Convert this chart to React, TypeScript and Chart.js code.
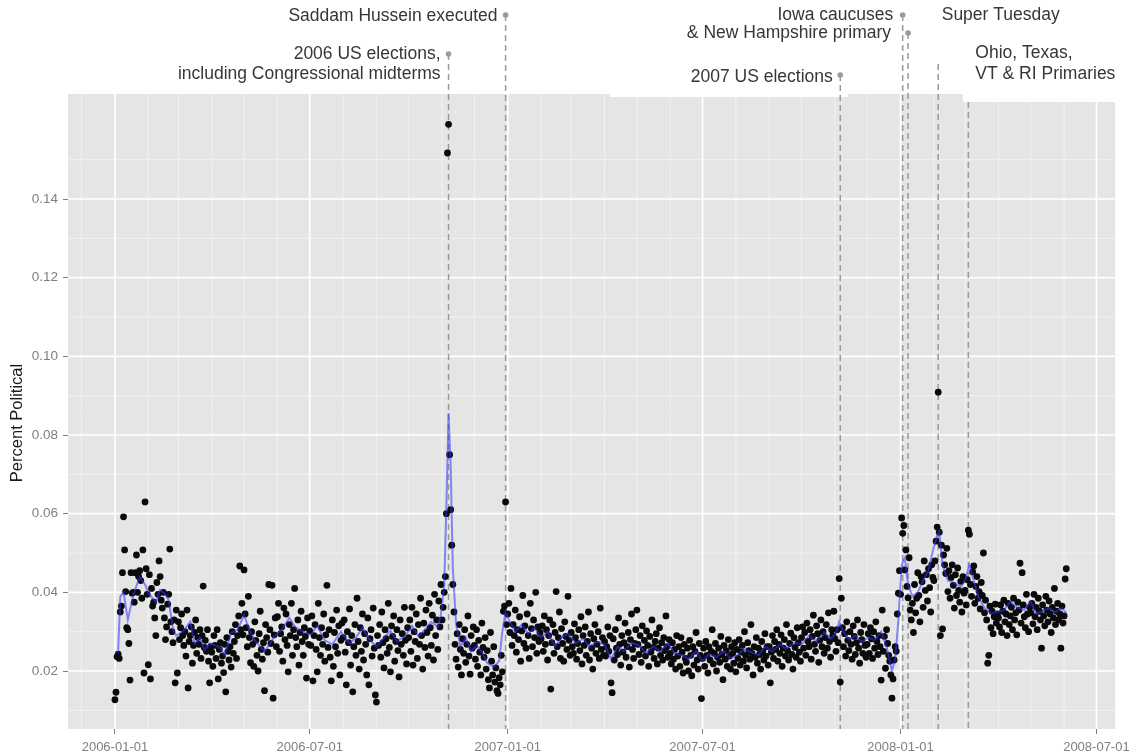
import React, { useEffect, useRef } from "react";
import { Chart, registerables } from "chart.js";

Chart.register(...registerables);

// Daily share of political items, in units of 1e-4, one inner list per month (Jan..)
const political2006: number[][] = [
  [127, 146, 236, 243, 232, 350, 365, 450, 592, 508, 402, 310, 305, 270, 177, 450, 398, 400, 375, 450, 495, 400, 440, 455, 430, 385, 508, 195, 630, 460, 395],
  [216, 445, 180, 410, 365, 375, 335, 290, 425, 395, 480, 440, 380, 360, 400, 335, 280, 312, 370, 395, 510, 325, 300, 272, 330, 170, 355, 195],
  [325, 280, 310, 345, 290, 265, 300, 238, 355, 157, 275, 290, 312, 220, 265, 298, 330, 245, 285, 268, 305, 232, 290, 416, 260, 278, 250, 305, 225, 170, 262],
  [248, 212, 290, 265, 232, 305, 180, 255, 272, 220, 238, 196, 268, 147, 285, 250, 228, 262, 210, 300, 245, 275, 318, 232, 290, 340, 467, 305, 372, 292],
  [457, 345, 310, 262, 390, 285, 221, 300, 268, 212, 325, 278, 240, 200, 295, 352, 255, 230, 272, 150, 318, 285, 248, 420, 305, 270, 418, 131, 292, 335, 262],
  [338, 372, 250, 295, 312, 225, 360, 280, 345, 265, 198, 318, 290, 372, 240, 305, 410, 285, 262, 330, 215, 298, 352, 275, 240, 310, 288, 182, 335, 268],
  [302, 265, 340, 175, 290, 318, 255, 198, 372, 285, 240, 310, 268, 345, 225, 292, 418, 260, 305, 235, 175, 330, 212, 298, 262, 355, 245, 315, 190, 278, 322],
  [285, 330, 248, 165, 300, 272, 358, 215, 290, 147, 262, 318, 240, 385, 275, 205, 310, 250, 345, 228, 295, 268, 190, 335, 165, 282, 305, 238, 360, 258, 139],
  [121, 290, 265, 318, 235, 350, 272, 208, 305, 282, 245, 372, 260, 198, 315, 288, 340, 225, 275, 305, 252, 185, 330, 268, 295, 240, 362, 278, 218, 310],
  [285, 330, 250, 362, 215, 300, 275, 345, 232, 318, 268, 385, 290, 205, 322, 260, 355, 298, 238, 372, 310, 265, 342, 228, 395, 290, 330, 255, 378, 312, 420],
  [330, 362, 400, 440, 600, 1517, 1590, 750, 610, 520, 420, 350, 268, 230, 295, 210, 318, 255, 190, 282, 245, 305, 222, 268, 340, 238, 192, 290, 258, 312],
  [265, 230, 305, 212, 278, 248, 190, 322, 260, 235, 285, 205, 252, 178, 157, 298, 225, 190, 262, 172, 208, 150, 143, 183, 165, 240, 198, 352, 365, 630, 318],
];

const political2007: number[][] = [
  [345, 372, 298, 410, 265, 318, 290, 355, 248, 305, 280, 338, 225, 302, 392, 270, 315, 258, 345, 290, 232, 372, 308, 262, 330, 285, 400, 245, 312, 275, 298],
  [282, 315, 250, 340, 268, 305, 228, 290, 330, 154, 272, 318, 245, 298, 402, 262, 285, 350, 232, 308, 270, 225, 325, 288, 255, 390, 278, 240],
  [298, 262, 245, 320, 285, 230, 270, 305, 252, 338, 218, 290, 265, 312, 240, 275, 350, 228, 295, 258, 205, 282, 318, 245, 268, 300, 232, 360, 255, 285, 240],
  [275, 238, 262, 312, 250, 290, 170, 145, 282, 228, 305, 258, 242, 335, 268, 215, 290, 248, 272, 322, 235, 262, 298, 210, 280, 345, 255, 232, 270, 305],
  [355, 268, 242, 290, 222, 315, 255, 278, 238, 302, 265, 212, 288, 248, 330, 260, 232, 275, 295, 218, 258, 310, 240, 272, 228, 285, 252, 340, 262, 235, 280],
  [245, 218, 272, 230, 255, 205, 290, 238, 262, 212, 285, 248, 195, 268, 232, 222, 258, 200, 278, 240, 188, 262, 215, 250, 298, 228, 205, 270, 240, 130],
  [232, 258, 212, 275, 240, 195, 262, 228, 250, 305, 218, 245, 270, 200, 235, 258, 222, 288, 242, 178, 265, 230, 252, 212, 280, 238, 205, 262, 245, 220, 272],
  [198, 255, 232, 280, 215, 248, 265, 225, 300, 240, 208, 272, 252, 230, 318, 245, 190, 262, 235, 285, 220, 258, 242, 205, 275, 250, 228, 295, 238, 262, 215],
  [262, 170, 248, 290, 232, 275, 255, 305, 225, 268, 245, 292, 212, 258, 280, 238, 318, 252, 228, 270, 296, 242, 205, 285, 260, 235, 310, 272, 248, 225],
  [285, 312, 258, 298, 240, 322, 275, 262, 305, 230, 288, 342, 268, 250, 315, 295, 222, 278, 330, 262, 300, 245, 285, 318, 258, 348, 275, 235, 305, 290, 352],
  [282, 250, 305, 272, 435, 172, 385, 310, 262, 295, 238, 325, 278, 252, 300, 268, 230, 315, 288, 242, 272, 330, 258, 220, 298, 280, 245, 318, 265, 235],
  [268, 295, 245, 310, 282, 232, 300, 258, 325, 275, 242, 290, 262, 177, 355, 250, 288, 207, 305, 270, 240, 225, 190, 131, 180, 228, 262, 250, 345, 398, 455],
];

const political2008: number[][] = [
  [395, 589, 550, 570, 457, 508, 415, 386, 488, 355, 330, 372, 298, 420, 348, 385, 450, 392, 325, 440, 427, 362, 480, 405, 445, 378, 460, 412, 350, 470, 438],
  [430, 480, 530, 566, 909, 553, 290, 520, 307, 495, 470, 448, 512, 402, 455, 385, 438, 470, 418, 360, 445, 392, 462, 405, 375, 428, 350, 440, 398],
  [405, 368, 432, 558, 548, 420, 390, 452, 467, 372, 415, 440, 385, 402, 358, 425, 392, 500, 348, 380, 330, 220, 240, 365, 310, 352, 295, 338, 370, 322, 345],
  [335, 312, 368, 298, 352, 380, 325, 345, 290, 372, 318, 340, 362, 305, 385, 330, 348, 292, 375, 355, 474, 322, 450, 368, 338, 310, 395, 345, 300, 362],
  [348, 372, 320, 395, 338, 362, 305, 385, 352, 330, 258, 368, 340, 315, 390, 355, 325, 378, 345, 298, 362, 335, 410, 318, 352, 372, 330, 345, 258, 365, 322],
  [340, 434, 460],
];

// Smoothed trend (blue line): day offsets from 2006-01-01 and values (1e-4)
const smoothDays = [
  0, 3, 5, 8, 12, 17, 23, 28, 31, 38, 42, 47, 50, 54, 57, 63, 70, 74, 79, 83, 88, 93, 98, 102, 108, 114, 120, 125, 130, 135,
  139, 144, 148, 155, 162, 168, 175, 182, 188, 195, 202, 210, 218, 224, 230, 236, 243, 250, 256, 262, 270, 276, 282, 288, 294, 300, 303, 306, 308, 310,
  312, 314, 317, 321, 326, 331, 336, 341, 346, 352, 357, 360, 363, 366, 372, 378, 384, 390, 396, 402, 409, 415, 421, 428, 435, 441, 448, 455, 461, 467,
  473, 480, 487, 494, 500, 507, 514, 520, 527, 533, 540, 546, 552, 559, 566, 572, 578, 585, 591, 598, 604, 611, 618, 624, 631, 638, 645, 652, 659, 665,
  670, 673, 676, 682, 688, 694, 700, 706, 712, 717, 722, 725, 728, 731, 734, 737, 741, 746, 751, 756, 760, 764, 766, 769, 774, 780, 786, 790, 794, 798,
  802, 808, 814, 820, 826, 832, 838, 845, 851, 856, 862, 868, 874, 880, 884,
];
const smoothValues = [
  246, 250, 389, 400, 330, 393, 439, 420, 398, 375, 406, 395, 380, 305, 290, 300, 325, 270, 285, 254, 270, 266, 258, 240, 296, 305, 342, 304, 278, 262,
  249, 270, 287, 305, 335, 310, 300, 292, 315, 278, 268, 300, 270, 285, 310, 282, 262, 285, 302, 275, 290, 315, 288, 305, 325, 312, 345, 420, 620, 855,
  720, 460, 320, 262, 285, 250, 265, 248, 220, 210, 225, 300, 350, 330, 300, 318, 295, 310, 285, 300, 262, 285, 295, 270, 282, 262, 275, 268, 230, 262,
  250, 272, 265, 245, 262, 250, 270, 245, 240, 230, 250, 225, 242, 236, 250, 232, 240, 255, 248, 240, 262, 250, 268, 256, 272, 268, 290, 275, 298, 282,
  295, 325, 305, 280, 290, 275, 285, 278, 300, 262, 200, 230, 330, 470, 488, 420, 390, 400, 430, 455, 505, 545, 555, 470, 430, 424, 414, 430, 470, 430,
  390, 360, 347, 350, 355, 376, 362, 355, 376, 347, 352, 360, 350, 360, 347,
];

const xTickDates = ["2006-01-01", "2006-07-01", "2007-01-01", "2007-07-01", "2008-01-01", "2008-07-01"];
const yTickValues = [0.02, 0.04, 0.06, 0.08, 0.1, 0.12, 0.14];

const eventDates = ["2006-11-07", "2006-12-30", "2007-11-06", "2008-01-03", "2008-01-08", "2008-02-05", "2008-03-04"];
const eventLabels = [
  ["2006 US elections,", "including Congressional midterms"],
  ["Saddam Hussein executed"],
  ["2007 US elections"],
  ["Iowa caucuses"],
  ["& New Hampshire primary"],
  ["Super Tuesday"],
  ["Ohio, Texas,", "VT & RI Primaries"],
];

// Placement of the annotation labels (pixels)
const eventLayout = [
  { lineTop: 54, dot: true, align: "right", dx: -8, baselines: [59, 78.5] },
  { lineTop: 15, dot: true, align: "right", dx: -8, baselines: [20.5] },
  { lineTop: 75, dot: true, align: "right", dx: -7.5, baselines: [81.5] },
  { lineTop: 15, dot: true, align: "right", dx: -9.5, baselines: [19.5] },
  { lineTop: 33, dot: true, align: "right", dx: -17, baselines: [38] },
  { lineTop: 64, dot: false, align: "left", dx: 3.5, baselines: [19.5] },
  { lineTop: 102, dot: false, align: "left", dx: 7, baselines: [57.5, 78.5] },
];
const labelBoxes = [
  { x: 610, y: 60, w: 238, h: 37 },
  { x: 963, y: 35, w: 173, h: 67 },
];

const FONT = '"Liberation Sans", Arial, Helvetica, sans-serif';
const START = Date.UTC(2006, 0, 1);
const DAY = 86400000;

function dayOfYMD(y: number, m0: number, d: number) {
  return Math.round((Date.UTC(y, m0, d) - START) / DAY);
}
function dayOf(s: string) {
  const [y, m, d] = s.split("-").map(Number);
  return dayOfYMD(y, m - 1, d);
}
function monthlyPoints(year: number, months: number[][]) {
  const out: { x: number; y: number }[] = [];
  months.forEach((vals, mi) =>
    vals.forEach((v, di) => out.push({ x: dayOfYMD(year, mi, di + 1), y: v / 10000 }))
  );
  return out;
}

const xTickDays = xTickDates.map(dayOf);

const decorPlugin = {
  id: "decor",
  beforeDatasetsDraw(chart: any) {
    const { ctx, chartArea: a, scales } = chart;
    const xs = scales.x;
    const ys = scales.y;
    ctx.save();
    ctx.fillStyle = "#E5E5E5";
    ctx.fillRect(a.left, a.top, a.right - a.left, a.bottom - a.top);

    // minor grid
    ctx.strokeStyle = "#F2F2F2";
    ctx.lineWidth = 1;
    for (let k = -2; k <= 32; k++) {
      if (((k % 6) + 6) % 6 === 0) continue;
      const px = xs.getPixelForValue(dayOfYMD(2006, k, 1));
      if (px <= a.left || px >= a.right) continue;
      ctx.beginPath();
      ctx.moveTo(px, a.top);
      ctx.lineTo(px, a.bottom);
      ctx.stroke();
    }
    for (let i = 0; i <= yTickValues.length; i++) {
      const v = 0.01 + i * 0.02;
      const py = ys.getPixelForValue(v);
      if (py <= a.top || py >= a.bottom) continue;
      ctx.beginPath();
      ctx.moveTo(a.left, py);
      ctx.lineTo(a.right, py);
      ctx.stroke();
    }
    // major grid
    ctx.strokeStyle = "#FFFFFF";
    ctx.lineWidth = 1.7;
    xTickDays.forEach((d) => {
      const px = xs.getPixelForValue(d);
      ctx.beginPath();
      ctx.moveTo(px, a.top);
      ctx.lineTo(px, a.bottom);
      ctx.stroke();
    });
    yTickValues.forEach((v) => {
      const py = ys.getPixelForValue(v);
      ctx.beginPath();
      ctx.moveTo(a.left, py);
      ctx.lineTo(a.right, py);
      ctx.stroke();
    });

    // label backgrounds
    ctx.fillStyle = "#FFFFFF";
    labelBoxes.forEach((b) => ctx.fillRect(b.x, b.y, b.w, b.h));

    // event lines, dots and labels
    eventDates.forEach((ds, i) => {
      const lay = eventLayout[i];
      const px = xs.getPixelForValue(dayOf(ds));
      ctx.strokeStyle = "#9A9A9A";
      ctx.lineWidth = 1.5;
      ctx.setLineDash([6, 4]);
      ctx.beginPath();
      ctx.moveTo(px, lay.lineTop);
      ctx.lineTo(px, a.bottom);
      ctx.stroke();
      ctx.setLineDash([]);
      if (lay.dot) {
        ctx.fillStyle = "#9A9A9A";
        ctx.beginPath();
        ctx.arc(px, lay.lineTop, 2.8, 0, Math.PI * 2);
        ctx.fill();
      }
      ctx.fillStyle = "#363636";
      ctx.font = `17.5px ${FONT}`;
      ctx.textAlign = lay.align;
      ctx.textBaseline = "alphabetic";
      eventLabels[i].forEach((t, j) => ctx.fillText(t, px + lay.dx, lay.baselines[j]));
    });

    // y axis title
    ctx.save();
    ctx.translate(17.5, 423);
    ctx.rotate(-Math.PI / 2);
    ctx.fillStyle = "#1A1A1A";
    ctx.font = `16.5px ${FONT}`;
    ctx.textAlign = "center";
    ctx.textBaseline = "middle";
    ctx.fillText("Percent Political", 0, 0);
    ctx.restore();

    ctx.restore();
  },
};

export default function App() {
  const ref = useRef<HTMLCanvasElement | null>(null);

  useEffect(() => {
    if (!ref.current) return;
    const points = [
      ...monthlyPoints(2006, political2006),
      ...monthlyPoints(2007, political2007),
      ...monthlyPoints(2008, political2008),
    ];
    const smooth = smoothDays.map((d, i) => ({ x: d, y: smoothValues[i] / 10000 }));

    const chart = new Chart(ref.current, {
      type: "scatter",
      data: {
        datasets: [
          {
            type: "line",
            label: "smoothed",
            data: smooth,
            borderColor: "rgba(50,50,255,0.55)",
            borderWidth: 2,
            pointRadius: 0,
            tension: 0,
            fill: false,
            order: 0,
          } as any,
          {
            type: "scatter",
            label: "Percent Political",
            data: points,
            backgroundColor: "#0A0A0A",
            borderWidth: 0,
            pointRadius: 3.4,
            order: 1,
          } as any,
        ],
      },
      options: {
        animation: false,
        responsive: false,
        devicePixelRatio: 1,
        layout: { padding: { top: 94, right: 19, left: 0, bottom: 0 } },
        plugins: { legend: { display: false }, tooltip: { enabled: false } },
        scales: {
          x: {
            type: "linear",
            min: -43.6,
            max: 929.5,
            afterBuildTicks: (s: any) => {
              s.ticks = xTickDays.map((v) => ({ value: v }));
            },
            afterFit: (s: any) => {
              s.height = 26;
            },
            ticks: {
              autoSkip: false,
              maxRotation: 0,
              padding: 6,
              color: "#7F7F7F",
              font: { family: FONT, size: 13 },
              callback: (v: any) => xTickDates[xTickDays.indexOf(Number(v))] ?? "",
            },
            grid: { drawOnChartArea: false, tickLength: 5, color: "#7F7F7F", lineWidth: 1 },
            border: { display: false },
          },
          y: {
            type: "linear",
            min: 0.00526,
            max: 0.1667,
            afterBuildTicks: (s: any) => {
              s.ticks = yTickValues.map((v) => ({ value: v }));
            },
            afterFit: (s: any) => {
              s.width = 68;
            },
            ticks: {
              padding: 5,
              color: "#7F7F7F",
              font: { family: FONT, size: 13.5 },
              callback: (v: any) => Number(v).toFixed(2),
            },
            grid: { drawOnChartArea: false, tickLength: 5, color: "#7F7F7F", lineWidth: 1 },
            border: { display: false },
          },
        },
      } as any,
      plugins: [decorPlugin],
    });
    return () => chart.destroy();
  }, []);

  return (
    <div style={{ position: "absolute", left: 0, top: 0, width: 1136, height: 755, background: "#fff" }}>
      <canvas ref={ref} width={1136} height={755} style={{ display: "block", width: 1136, height: 755 }} />
    </div>
  );
}
